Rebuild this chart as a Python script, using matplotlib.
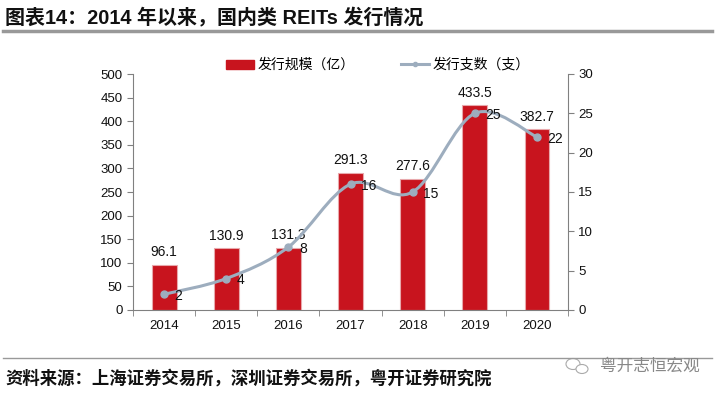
import matplotlib
matplotlib.use("Agg")
import matplotlib.pyplot as plt
import numpy as np
from matplotlib.path import Path
from matplotlib.patches import PathPatch, Patch, Ellipse
from matplotlib.lines import Line2D

plt.rcParams['font.family'] = ['Liberation Sans', 'Noto Sans CJK SC', 'DejaVu Sans']

years = ['2014', '2015', '2016', '2017', '2018', '2019', '2020']
amount = [96.1, 130.9, 131.3, 291.3, 277.6, 433.5, 382.7]
count = [2, 4, 8, 16, 15, 25, 22]
bar_label = '发行规模（亿）'
line_label = '发行支数（支）'
title = '图表14：2014 年以来，国内类 REITs 发行情况'
source = '资料来源：上海证券交易所，深圳证券交易所，粤开证券研究院'
watermark = '粤开志恒宏观'

RED = '#C8141E'
LINE = '#9DADBE'
AXC = '#808080'

W, H = 716, 396
fig = plt.figure(figsize=(W/100, H/100), dpi=100)
ax = fig.add_axes([133/W, 1-310/H, 435/W, (310-74)/H])
ax2 = ax.twinx()

x = np.arange(len(years))
ax.bar(x, amount, width=0.4, color=RED, edgecolor='#E8A8AC', linewidth=0.8, zorder=2)
for xi, v in zip(x, amount):
    ax.text(xi, v + 12, f'{v:.1f}', ha='center', va='bottom', fontsize=10, color='#111111')

ax.set_xlim(-0.5, len(years) - 0.5)
ax.set_ylim(0, 500)
ax.set_yticks(np.arange(0, 501, 50))
ax2.set_ylim(0, 30)
ax2.set_yticks(np.arange(0, 31, 5))

# smooth line through the data points via cubic bezier segments
pts = np.column_stack([x, count]).astype(float)
ext = np.vstack([pts[0], pts, pts[-1]])
verts = [tuple(pts[0])]
codes = [Path.MOVETO]
for i in range(len(pts) - 1):
    p0, p1, p2, p3 = ext[i], ext[i+1], ext[i+2], ext[i+3]
    c1 = p1 + (p2 - p0) / 6
    c2 = p2 - (p3 - p1) / 6
    verts += [tuple(c1), tuple(c2), tuple(p2)]
    codes += [Path.CURVE4] * 3
ax2.add_patch(PathPatch(Path(verts, codes), facecolor='none', edgecolor=LINE, lw=2.2, zorder=3))
ax2.plot(x, count, 'o', color=LINE, ms=5, zorder=4)
for xi, v in zip(x, count):
    ax2.text(xi + 0.17, v - 0.25, str(v), ha='left', va='center', fontsize=10, color='#111111')

for a in (ax, ax2):
    for s in a.spines.values():
        s.set_color(AXC)
    a.spines['top'].set_visible(False)
ax.spines['right'].set_visible(False)
ax2.spines['left'].set_visible(False)
ax2.spines['bottom'].set_visible(False)
ax.tick_params(axis='y', colors=AXC, labelcolor='#111111', labelsize=9.5, length=4, direction='out')
ax2.tick_params(axis='y', colors=AXC, labelcolor='#111111', labelsize=9.5, length=4, direction='out')
ax.set_xticks(x)
ax.set_xticklabels(years)
ax.tick_params(axis='x', length=0, labelsize=9.5, labelcolor='#111111', pad=7)
ax.set_xticks(np.arange(-0.5, len(years)), minor=True)
ax.tick_params(axis='x', which='minor', length=4, color=AXC, direction='out')

handles = [Patch(facecolor=RED, edgecolor=RED),
           Line2D([0], [0], color=LINE, lw=2.2, marker='o', ms=3)]
fig.legend(handles, [bar_label, line_label], loc='center', bbox_to_anchor=(378/W, 1-65/H),
           ncol=2, frameon=False, fontsize=10, handlelength=2.0, handleheight=0.6,
           columnspacing=3.3, handletextpad=0.3)

fig.text(5/W, 1-17/H, title, fontsize=14.4, fontweight='bold', va='center', ha='left', color='#111111')
fig.add_artist(Line2D([3/W, 712/W], [1-31/H, 1-31/H], color='#999999', lw=2.5))
fig.add_artist(Line2D([3/W, 712/W], [1-358/H, 1-358/H], color='#999999', lw=1))
fig.text(5/W, 1-378/H, source, fontsize=12.5, fontweight='bold', style='italic', va='center', ha='left', color='#111111')
# small chat-bubble icon beside watermark
fig.add_artist(Ellipse((573/W, 1-364/H), 14/W, 11/H, facecolor='none', edgecolor='#AAAAAA', lw=0.8))
fig.add_artist(Ellipse((582/W, 1-369/H), 12/W, 9/H, facecolor='white', edgecolor='#AAAAAA', lw=0.8))
fig.text(600/W, 1-366/H, watermark, fontsize=12, va='center', ha='left', color='#888888')

fig.savefig('out.png', dpi=100)
